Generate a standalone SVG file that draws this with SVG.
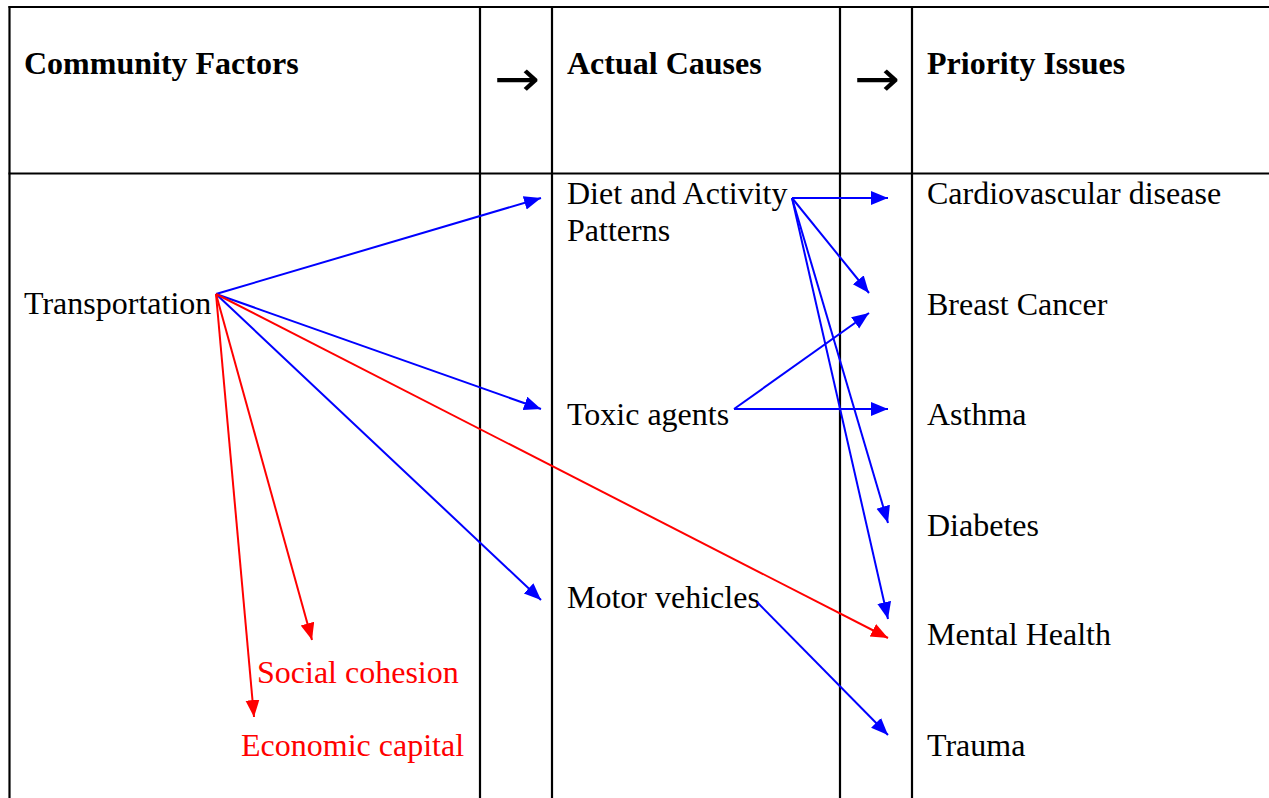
<svg xmlns="http://www.w3.org/2000/svg" width="1269" height="798" viewBox="0 0 1269 798">
<style>
.grid{stroke:#000;stroke-width:2.2;fill:none}
.h{font-family:"Liberation Serif","Times New Roman",serif;font-size:32px;font-weight:bold;fill:#000}
.t{font-family:"Liberation Serif","Times New Roman",serif;font-size:32px;fill:#000}
.r{fill:#ff0000}
.arr{font-family:"DejaVu Sans",sans-serif;font-size:50px;fill:#000}
.b{stroke:#0000ff;stroke-width:2;fill:none;marker-end:url(#mb)}
.rd{stroke:#ff0000;stroke-width:2;fill:none;marker-end:url(#mr)}
</style>
<defs>
<marker id="mb" markerUnits="userSpaceOnUse" markerWidth="18" markerHeight="15" refX="17" refY="7" orient="auto" viewBox="0 0 18 15"><path d="M0,0 L17,7 L0,14 z" fill="#0000ff"/></marker>
<marker id="mr" markerUnits="userSpaceOnUse" markerWidth="18" markerHeight="15" refX="17" refY="7" orient="auto" viewBox="0 0 18 15"><path d="M0,0 L17,7 L0,14 z" fill="#ff0000"/></marker>
</defs>
<rect width="1269" height="798" fill="#fff"/>
<g id="table">
<line class="grid" x1="8.5" y1="7" x2="1269" y2="7"/>
<line class="grid" x1="8.5" y1="173.5" x2="1269" y2="173.5"/>
<line class="grid" x1="9.5" y1="6" x2="9.5" y2="798"/>
<line class="grid" x1="480" y1="7" x2="480" y2="798"/>
<line class="grid" x1="552" y1="7" x2="552" y2="798"/>
<line class="grid" x1="840" y1="7" x2="840" y2="798"/>
<line class="grid" x1="912" y1="7" x2="912" y2="798"/>
</g>
<g id="headers">
<text class="h" x="24" y="74">Community Factors</text>
<text class="h" x="567" y="74">Actual Causes</text>
<text class="h" x="927" y="74">Priority Issues</text>
<text class="arr" x="494" y="96" textLength="46" lengthAdjust="spacingAndGlyphs">→</text>
<text class="arr" x="854" y="96" textLength="46" lengthAdjust="spacingAndGlyphs">→</text>
</g>
<g id="n-transportation"><text class="t" x="24" y="314">Transportation</text></g>
<g id="n-social"><text class="t r" x="257" y="683">Social cohesion</text></g>
<g id="n-economic"><text class="t r" x="241" y="756">Economic capital</text></g>
<g id="n-diet"><text class="t" x="567" y="204">Diet and Activity</text><text class="t" x="567" y="241">Patterns</text></g>
<g id="n-toxic"><text class="t" x="567" y="425">Toxic agents</text></g>
<g id="n-motor"><text class="t" x="567" y="608">Motor vehicles</text></g>
<g id="n-cardio"><text class="t" x="927" y="204">Cardiovascular disease</text></g>
<g id="n-breast"><text class="t" x="927" y="315">Breast Cancer</text></g>
<g id="n-asthma"><text class="t" x="927" y="425">Asthma</text></g>
<g id="n-diabetes"><text class="t" x="927" y="536">Diabetes</text></g>
<g id="n-mental"><text class="t" x="927" y="645">Mental Health</text></g>
<g id="n-trauma"><text class="t" x="927" y="756">Trauma</text></g>
<g id="connectors">
<line class="b" x1="216" y1="294" x2="541" y2="198"/>
<line class="b" x1="216" y1="294" x2="541" y2="409"/>
<line class="b" x1="216" y1="294" x2="541" y2="600"/>
<line class="rd" x1="216" y1="294" x2="888" y2="638"/>
<line class="rd" x1="216" y1="294" x2="312" y2="640"/>
<line class="rd" x1="216" y1="294" x2="254" y2="717"/>
<line class="b" x1="792" y1="198" x2="888" y2="198"/>
<line class="b" x1="792" y1="198" x2="869" y2="293"/>
<line class="b" x1="792" y1="198" x2="888" y2="523"/>
<line class="b" x1="792" y1="198" x2="888" y2="619"/>
<line class="b" x1="734" y1="409" x2="869" y2="313"/>
<line class="b" x1="734" y1="409" x2="888" y2="409"/>
<line class="b" x1="757" y1="602" x2="888" y2="735"/>
</g>
</svg>
